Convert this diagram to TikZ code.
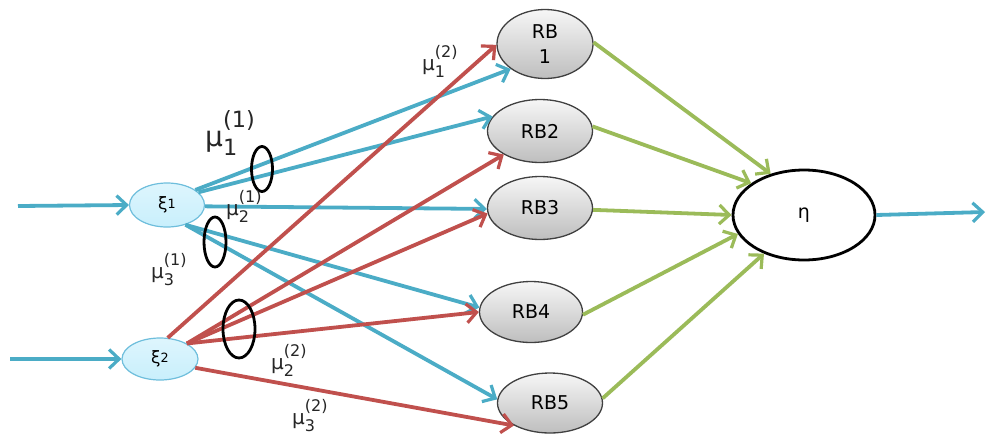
\documentclass[tikz,border=0pt]{standalone}
\usepackage{fontspec}
\setmainfont{DejaVu Sans}
\usetikzlibrary{arrows.meta,shapes.geometric}
\definecolor{blueA}{RGB}{75,172,198}
\definecolor{redA}{RGB}{192,80,77}
\definecolor{greenA}{RGB}{155,187,89}
\definecolor{xifill}{RGB}{200,239,252}
\definecolor{xidraw}{RGB}{110,190,220}
\definecolor{rbtop}{RGB}{246,246,246}
\definecolor{rbbot}{RGB}{190,190,190}
\newcommand{\mulab}[2]{μ\rlap{\raisebox{-0.35em}{\scalebox{0.8}{#1}}}\raisebox{0.65em}{\scalebox{0.8}{(#2)}}}
\newcommand{\xilab}[1]{ξ\raisebox{0.05em}{\scalebox{0.75}{#1}}}
\begin{document}
\begin{tikzpicture}[x=1pt,y=-1pt,
  xin/.style={ellipse,draw=xidraw,line width=1.2pt,top color=white!40!xifill,bottom color=xifill,inner sep=0pt,font=\fontsize{17}{20}\selectfont},
  rb/.style={ellipse,draw=black!75,line width=1.3pt,top color=rbtop,bottom color=rbbot,inner sep=0pt,align=center,font=\fontsize{19}{25}\selectfont},
  ring/.style={ellipse,draw=black,line width=2.8pt,inner sep=0pt},
  lab/.style={anchor=base west,inner sep=0pt,text=black!85},
  arr/.style={line width=3.8pt,-{Straight Barb[length=10pt,width=19pt,line width=3.2pt]}},
  barr/.style={arr,draw=blueA},
  rarr/.style={arr,draw=redA},
  garr/.style={arr,draw=greenA}]
\useasboundingbox (0,0) rectangle (987,434);
% nodes
\node[xin,minimum width=75pt,minimum height=44pt] (xi1) at (167,205) {\xilab{1}};
\node[xin,minimum width=76pt,minimum height=42pt] (xi2) at (160,359) {\xilab{2}};
\node[rb,minimum width=96pt,minimum height=69pt] (rb1) at (545,44) {RB\\1};
\node[rb,minimum width=105pt,minimum height=63pt] (rb2) at (540,131) {RB2};
\node[rb,minimum width=105pt,minimum height=63pt] (rb3) at (540,208) {RB3};
\node[rb,minimum width=103pt,minimum height=61pt] (rb4) at (531,312) {RB4};
\node[rb,minimum width=105pt,minimum height=60pt] (rb5) at (550,403) {RB5};
\node[ellipse,draw=black,line width=2.8pt,fill=white,minimum width=142pt,minimum height=90pt,inner sep=0pt,font=\fontsize{19}{22}\selectfont] (eta) at (804,215) {η};
\coordinate (in1) at (18,206);
\coordinate (in2) at (10,359);
\coordinate (out) at (985,212);
% inputs / output
\draw[barr] (in1) -- (xi1.west);
\draw[barr] (in2) -- (xi2.west);
\draw[barr] (eta.east) -- (out);
% blue from xi1
\draw[barr] (xi1.28) -- (rb1.216);
\draw[barr] (xi1.22) -- (rb2.163);
\draw[barr] (xi1.-2) -- (rb3.181);
\draw[barr] (xi1.-47) -- (rb4.175);
\draw[barr] (xi1.-47) -- (rb5.176);
% red from xi2
\draw[rarr] (xi2.70) -- (rb1.181);
\draw[rarr] (xi2.30) -- (rb2.213);
\draw[rarr] (xi2.30) -- (rb3.186);
\draw[rarr] (xi2.30) -- (rb4.180);
\draw[rarr] (xi2.-14) -- (rb5.212);
% green to eta
\draw[garr] (rb1.2) -- (eta.129);
\draw[garr] (rb2.5) -- (eta.149);
\draw[garr] (rb3.-2) -- (eta.180);
\draw[garr] (rb4.-3) -- (eta.196);
\draw[garr] (rb5.5) -- (eta.224);
% rings
\node[ring,minimum width=21pt,minimum height=45pt] (o1) at (262,169) {};
\node[ring,minimum width=22pt,minimum height=50pt] (o2) at (215,242) {};
\node[ring,minimum width=32pt,minimum height=58pt] (o3) at (239,329) {};
% labels
\node[lab,font=\fontsize{28}{30}\selectfont] (l11) at (205,146) {\mulab{1}{1}};
\node[lab,font=\fontsize{20}{22}\selectfont] (l21) at (226,215) {\mulab{2}{1}};
\node[lab,font=\fontsize{20}{22}\selectfont] (l31) at (151,278) {\mulab{3}{1}};
\node[lab,font=\fontsize{20}{22}\selectfont] (l12) at (422,70) {\mulab{1}{2}};
\node[lab,font=\fontsize{20}{22}\selectfont] (l22) at (271,369) {\mulab{2}{2}};
\node[lab,font=\fontsize{20}{22}\selectfont] (l32) at (292,424) {\mulab{3}{2}};
\end{tikzpicture}
\end{document}
